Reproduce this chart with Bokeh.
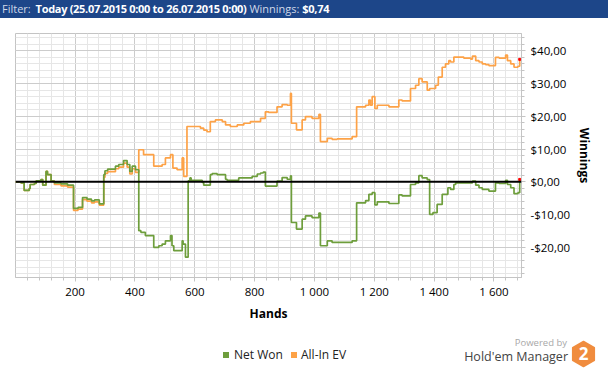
import math
from bokeh.plotting import figure
from bokeh.layouts import column
from bokeh.models import FixedTicker, Span, Div
from bokeh.embed import file_html
from bokeh.resources import INLINE

# ---------------- data ----------------
hands_net = [1, 19, 30, 47, 50, 64, 70, 86, 92, 103,
             108, 120, 131, 153, 175, 195, 210, 225, 240, 255,
             265, 281, 296, 300, 309, 335, 346, 362, 374, 383,
             391, 402, 413, 420, 435, 463, 480, 491, 502, 519,
             524, 530, 558, 561, 569, 578, 584, 588, 625, 630,
             652, 658, 675, 703, 708, 747, 792, 809, 820, 829,
             836, 875, 892, 909, 920, 923, 940, 959, 970, 992,
             1015, 1020, 1043, 1059, 1126, 1141, 1171, 1182, 1193, 1202,
             1210, 1249, 1282, 1293, 1321, 1338, 1349, 1360, 1377, 1385,
             1396, 1410, 1427, 1446, 1455, 1466, 1472, 1528, 1539, 1550,
             1561, 1583, 1605, 1617, 1639, 1645, 1656, 1667, 1680, 1686]
net_won = [0.0, -0.3, -2.6, -2.0, -0.8, -0.5, 0.3, 0.7, -1.0, 3.2,
           2.2, 0.2, -0.3, -0.6, -1.0, -8.1, -7.8, -4.8, -5.3, -5.8,
           -5.5, -6.7, 2.2, 3.4, 3.9, 4.8, 5.3, 6.5, 5.3, 3.2,
           4.8, 3.7, -14.9, -15.4, -16.4, -20.0, -19.5, -19.0, -18.0, -16.4,
           -19.5, -21.0, -18.0, -19.0, -23.0, 0.3, 1.2, 0.5, -0.2, -1.0,
           2.2, 2.5, 2.2, 0.8, 0.5, 1.2, 1.7, 2.4, 2.7, 3.0,
           -1.3, 0.2, 1.3, 0.8, 1.8, -12.4, -14.4, -11.4, -10.4, -10.9,
           -9.5, -19.5, -18.0, -18.5, -18.0, -6.4, -5.7, -3.8, -3.3, -7.0,
           -6.1, -6.6, -4.0, -4.3, -0.8, -0.3, 1.9, 1.2, 0.7, -9.9,
           -9.4, -6.9, -3.8, -1.8, -2.3, -0.8, -0.3, 0.2, -1.0, -1.8,
           -2.3, -2.8, -0.3, -0.5, 0.5, -0.8, -1.8, -3.6, -3.3, 0.74]

hands_ev = [1, 19, 30, 47, 50, 64, 70, 86, 92, 103,
            108, 120, 131, 153, 175, 195, 210, 225, 240, 255,
            265, 281, 296, 300, 309, 335, 346, 362, 374, 383,
            391, 402, 413, 429, 463, 491, 502, 519, 527, 541,
            558, 563, 574, 619, 630, 641, 652, 669, 692, 703,
            719, 742, 764, 786, 820, 836, 847, 875, 892, 909,
            920, 923, 940, 959, 970, 992, 1015, 1020, 1043, 1059,
            1076, 1126, 1141, 1171, 1182, 1187, 1193, 1202, 1210, 1249,
            1282, 1293, 1321, 1338, 1349, 1360, 1377, 1385, 1405, 1414,
            1427, 1438, 1449, 1455, 1466, 1499, 1522, 1528, 1539, 1550,
            1561, 1572, 1583, 1605, 1617, 1639, 1645, 1656, 1667, 1680,
            1686]
allin_ev = [0.0, -0.3, -2.6, -2.0, -0.8, -0.5, 0.3, 0.7, -1.0, 3.2,
            2.2, 0.2, -0.8, -1.2, -1.6, -8.7, -8.3, -5.4, -5.9, -6.4,
            -6.1, -7.1, 1.4, 2.6, 3.1, 4.0, 4.5, 5.7, 4.5, 2.4,
            4.0, 2.9, 9.8, 8.3, 4.8, 5.3, 7.3, 8.3, 4.2, 3.7,
            7.3, 1.7, 16.9, 16.4, 15.8, 15.3, 18.4, 18.9, 18.4, 17.4,
            16.9, 17.4, 17.9, 18.4, 19.4, 21.4, 21.2, 22.9, 23.6, 23.4,
            27.0, 17.9, 15.9, 18.9, 19.9, 19.4, 20.6, 12.3, 13.3, 13.0,
            13.1, 13.8, 22.9, 23.4, 25.0, 23.4, 26.0, 22.4, 23.4, 22.9,
            25.0, 24.7, 28.5, 29.5, 31.5, 30.5, 28.0, 28.5, 29.5, 32.0,
            35.0, 36.0, 37.0, 36.6, 38.1, 37.8, 37.5, 38.4, 37.0, 36.6,
            36.0, 35.8, 35.5, 38.0, 37.8, 38.7, 37.0, 36.0, 35.0, 35.3,
            37.4]

x_ticks = [200, 400, 600, 800, 1000, 1200, 1400, 1600]
x_tick_labels = ["200", "400", "600", "800", "1 000", "1 200", "1 400", "1 600"]
y_ticks = [-20, -10, 0, 10, 20, 30, 40]
y_tick_labels = ["-$20,00", "-$10,00", "$0,00", "$10,00", "$20,00", "$30,00", "$40,00"]
series_names = ["Net Won", "All-In EV"]

# ---------------- layout constants ----------------
W = 608
HDR_H = 18          # header strip
MAIN_H = 317        # main chart strip
FOOT_H = 34         # legend / logo strip
FL, FR = 15, 521    # frame left / right (canvas px)
FT, FB = 33, 277    # frame top / bottom (page px)
FONT = "Open Sans"
GREEN = "#6e9e3c"
ORANGE = "#fda247"
NAVY = "#1d4689"

# ---------------- header ----------------
light = 'color:#cfd8e8;font-weight:normal;'
bold = 'color:#ffffff;font-weight:bold;letter-spacing:-0.3px;'
header_html = (f'<div style="width:{W}px;height:{HDR_H}px;background:{NAVY};box-sizing:border-box;'
               f'padding-left:2px;font-family:\'{FONT}\';font-size:11px;line-height:{HDR_H}px;'
               f'white-space:nowrap;overflow:hidden;">'
               f'<span style="{light}">Filter:</span> '
               f'<span style="{bold}margin-left:2px;">Today (25.07.2015 0:00 to 26.07.2015 0:00)</span> '
               f'<span style="{light}">Winnings:</span> '
               f'<span style="{bold}">$0,74</span></div>')
header = Div(text=header_html, width=W, height=HDR_H, margin=0)

# ---------------- main chart ----------------
p = figure(width=W, height=MAIN_H, x_range=(1, 1692), y_range=(-29.2, 45.3),
           y_axis_location="right", title=None,
           output_backend="svg", toolbar_location=None,
           min_border_left=FL, min_border_top=FT - HDR_H,
           min_border_right=W - FR, min_border_bottom=HDR_H + MAIN_H - FB)
p.background_fill_color = "white"
p.border_fill_color = "white"
p.outline_line_color = "#c4c4c4"

p.xaxis.ticker = FixedTicker(ticks=x_ticks, minor_ticks=list(range(40, 1692, 40)))
p.yaxis.ticker = FixedTicker(ticks=y_ticks, minor_ticks=list(range(-28, 46, 2)))
p.xaxis.major_label_overrides = {t: l for t, l in zip(x_ticks, x_tick_labels)}
p.yaxis.major_label_overrides = {t: l for t, l in zip(y_ticks, y_tick_labels)}
for ax in (p.xaxis[0], p.yaxis[0]):
    ax.axis_line_color = "#c4c4c4"
    ax.major_tick_line_color = "#c4c4c4"
    ax.minor_tick_line_color = "#c4c4c4"
    ax.major_tick_in = 0
    ax.major_tick_out = 4
    ax.minor_tick_in = 0
    ax.minor_tick_out = 3
    ax.major_label_text_font = FONT
    ax.major_label_text_font_size = "11.5px"
    ax.major_label_text_color = "#000000"
    ax.axis_label_text_font = FONT
    ax.axis_label_text_font_size = "12px"
    ax.axis_label_text_font_style = "bold"
    ax.axis_label_text_color = "#000000"
p.xaxis.axis_label = "Hands"
p.yaxis.axis_label = "Winnings"
p.xaxis.major_label_standoff = 2
p.yaxis.major_label_standoff = 5
p.xaxis.axis_label_standoff = 3
p.yaxis.axis_label_standoff = 3

p.xgrid.grid_line_color = "#cccccc"
p.ygrid.grid_line_color = "#cccccc"
p.xgrid.minor_grid_line_color = "#e6e6e6"
p.ygrid.minor_grid_line_color = "#e6e6e6"

p.step(hands_ev, allin_ev, mode="after", line_color=ORANGE, line_width=1.7)
p.step(hands_net, net_won, mode="after", line_color=GREEN, line_width=1.7)
p.scatter([hands_ev[-1], hands_net[-1]], [allin_ev[-1], net_won[-1]],
          marker="square", size=2, color="red")
p.add_layout(Span(location=0, dimension="width", line_color="black", line_width=2))

# ---------------- footer: legend + logo ----------------
Y0 = HDR_H + MAIN_H   # page y of the footer's top


def abs_el(inner, left, top, extra=""):
    return f'<div style="position:absolute;left:{left}px;top:{top}px;{extra}">{inner}</div>'


sq = 'display:inline-block;width:6px;height:6px;'
hx, hy, hr = 13.5, 14.0, 12.5
pts = " ".join(f"{hx + hr * math.cos(math.radians(90 + 60 * k)):.2f},"
               f"{hy + hr * math.sin(math.radians(90 + 60 * k)):.2f}" for k in range(6))
hex_svg = (f'<svg width="27" height="28" xmlns="http://www.w3.org/2000/svg">'
           f'<polygon points="{pts}" fill="#f08c3e" stroke="#f08c3e" stroke-width="1.5" '
           f'stroke-linejoin="round"/>'
           f'<text x="{hx}" y="{hy + 6}" text-anchor="middle" font-family="{FONT}" '
           f'font-size="17px" font-weight="bold" fill="#ffffff">2</text></svg>')

footer_html = (f'<div style="position:relative;width:{W}px;height:{FOOT_H}px;background:#fff;'
               f'font-family:\'{FONT}\';white-space:nowrap;overflow:hidden;">'
               + abs_el(f'<span style="{sq}background:{GREEN};"></span>', 223, 352 - Y0, "line-height:0;")
               + abs_el(series_names[0], 234, 347 - Y0, "font-size:12px;line-height:16px;color:#222;")
               + abs_el(f'<span style="{sq}background:{ORANGE};"></span>', 291, 352 - Y0, "line-height:0;")
               + abs_el(series_names[1], 301, 347 - Y0, "font-size:12px;line-height:16px;color:#222;")
               + f'<div style="position:absolute;right:{W - 567}px;top:{337 - Y0}px;font-size:9.5px;'
                 f'line-height:11px;color:#a8a8a8;">Powered by</div>'
               + f'<div style="position:absolute;right:{W - 568}px;top:{349 - Y0}px;font-size:12.5px;'
                 f'line-height:15px;color:#444444;">Hold\'em Manager</div>'
               + abs_el(hex_svg, 570, 340 - Y0, "line-height:0;")
               + '</div>')
footer = Div(text=footer_html, width=W, height=FOOT_H, margin=0)

page = column(header, p, footer, spacing=0)
template = """{% block preamble %}<style>html, body { margin: 0; padding: 0; overflow: hidden; }</style>{% endblock %}"""
html = file_html(page, INLINE, title="Winnings", template=template)
open("out.html", "w").write(html)
